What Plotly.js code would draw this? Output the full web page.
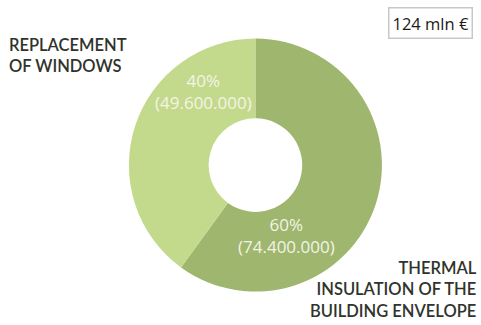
<!DOCTYPE html>
<html><head><meta charset="utf-8">
<script src="https://cdn.plot.ly/plotly-3.0.1.min.js"></script>
<style>html,body{margin:0;padding:0;background:#fff}#chart{width:481px;height:325px}</style>
</head><body><div id="chart"></div>
<script>
const categories = ["THERMAL<br>INSULATION OF THE<br>BUILDING ENVELOPE", "REPLACEMENT<br>OF WINDOWS"];
const values = [74400000, 49600000];
const percents = ["60%", "40%"];
const amountLabels = ["(74.400.000)", "(49.600.000)"];
const totalLabel = "124 mln €";
const colors = ["#9fb66e", "#c3da8d"];

const trace = {
  type: "pie",
  labels: categories,
  values: values,
  hole: 0.37,
  sort: false,
  direction: "clockwise",
  rotation: 0,
  marker: {colors: colors, line: {width: 0}},
  textinfo: "none",
  hoverinfo: "none",
  showlegend: false,
  domain: {x: [0.268, 0.794], y: [0.1, 0.884]}
};

const inner = [
  {x: 0.595, y: 0.275},
  {x: 0.424, y: 0.717}
];
const outer = [
  {x: 0.995, y: 0.005, xanchor: "right", yanchor: "bottom", align: "right"},
  {x: 0.014, y: 0.9, xanchor: "left", yanchor: "top", align: "left"}
];

const annotations = [];
categories.forEach((c, i) => {
  annotations.push({
    xref: "paper", yref: "paper", x: inner[i].x, y: inner[i].y,
    xanchor: "center", yanchor: "middle", showarrow: false,
    text: percents[i] + "<br>" + amountLabels[i],
    font: {family: "Open Sans", size: 17, color: "#f3f4e6"}
  });
  annotations.push({
    xref: "paper", yref: "paper", x: outer[i].x, y: outer[i].y,
    xanchor: outer[i].xanchor, yanchor: outer[i].yanchor, align: outer[i].align,
    showarrow: false, text: c,
    font: {family: "Lato", size: 16.5, color: "#2f332b", weight: 600}
  });
});
annotations.push({
  xref: "paper", yref: "paper", x: 0.984, y: 0.978,
  xanchor: "right", yanchor: "top", showarrow: false,
  text: totalLabel, bordercolor: "#c8c8c8", borderwidth: 1.5, borderpad: 3,
  bgcolor: "#fff",
  font: {family: "Open Sans", size: 16.5, color: "#1a1a1a"}
});

Plotly.newPlot("chart", [trace], {
  width: 481, height: 325,
  margin: {l: 0, r: 0, t: 0, b: 0},
  paper_bgcolor: "#fff",
  annotations: annotations
}, {displayModeBar: false, staticPlot: true});
</script></body></html>
